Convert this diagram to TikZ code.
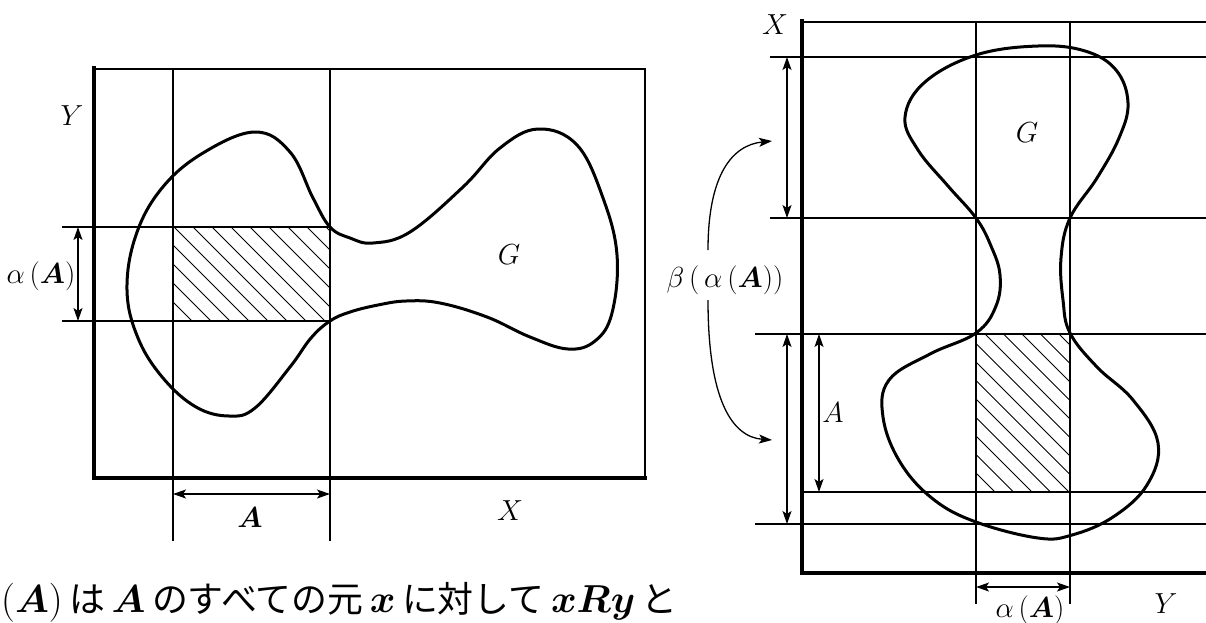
\RequirePackage{fix-cm}
\documentclass[tikz,border=0pt]{standalone}
\usepackage{amsmath}
\usepackage{fontspec}
\newfontfamily\jp{Noto Sans CJK JP}[Scale=0.92]
\usetikzlibrary{arrows.meta}
\begin{document}
\begin{tikzpicture}[x=1pt,y=-1pt,
  thinline/.style={line width=1.3pt},
  axis/.style={line width=4.5pt, line join=miter},
  blob/.style={line width=3pt, line join=round},
  hatch/.style={line width=1pt},
  tip/.style={-{Stealth[length=13pt,width=9pt,inset=3pt]}},
  dim/.style={line width=1.3pt, {Stealth[length=13pt,width=9pt,inset=3pt]}-{Stealth[length=13pt,width=9pt,inset=3pt]}},
  lab/.style={font=\fontsize{29}{32}\selectfont, inner sep=0pt}]
\useasboundingbox (0,0) rectangle (1206,622);

% ---------------- left figure ----------------
\draw[thinline] (94,69) -- (645,69) -- (645,478);
\draw[thinline] (173,69) -- (173,541);
\draw[thinline] (330,69) -- (330,541);
\draw[thinline] (62,227) -- (330,227);
\draw[thinline] (62,321) -- (330,321);
\begin{scope}
  \clip (173,227) rectangle (330,321);
  \foreach \x in {60,79,...,340} \draw[hatch] (\x,227) -- ++(100,100);
\end{scope}
\draw[blob] plot[smooth cycle, tension=0.65] coordinates {
  (127,290) (136,235) (162,188) (203,153) (255,132) (290,152) (313,198)
  (330,227) (350,238) (373,243) (410,232) (463,187) (500,148) (538,129) (577,145)
  (603,198) (617,255) (612,313) (595,341) (568,349) (530,337) (487,317)
  (440,303) (406,301) (378,305) (350,312) (330,321) (311,338) (290,367) (255,408) (229,416)
  (196,407) (163,378) (138,338)};
\draw[axis] (94,66) -- (94,478) -- (647,478);

\coordinate (la1) at (78,227);
\coordinate (la2) at (78,321);
\draw[dim] (la1) -- (la2);
\coordinate (lb1) at (173,494);
\coordinate (lb2) at (330,494);
\draw[dim] (lb1) -- (lb2);

\node[lab] (lY) at (72,116) {$Y$};
\node[lab] (lG) at (509,255) {$G$};
\node[lab] (lX) at (510,511) {$X$};
\node[lab] (lA) at (250,518) {$\boldsymbol{A}$};
\node[lab] (lalpha) at (41,276) {$\alpha\,(\boldsymbol{A})$};

\node[anchor=base west, inner sep=0pt, font=\fontsize{39}{44}\selectfont] (txt) at (1,612)
  {$(\boldsymbol{A})$\,{\jp は}\,$\boldsymbol{A}$\,{\jp のすべての元}\,$\boldsymbol{x}$\,{\jp に対して}\,$\boldsymbol{xRy}$\,{\jp と}};

% ---------------- right figure ----------------
\draw[thinline] (802,22) -- (1206,22);
\draw[thinline] (770,57) -- (1206,57);
\draw[thinline] (770,218) -- (1206,218);
\draw[thinline] (755,334) -- (1206,334);
\draw[thinline] (802,492) -- (1206,492);
\draw[thinline] (755,524) -- (1206,524);
\draw[thinline] (976,22) -- (976,604);
\draw[thinline] (1070,22) -- (1070,604);
\begin{scope}
  \clip (976,334) rectangle (1070,492);
  \foreach \x in {800,818.5,...,1080} \draw[hatch] (\x,334) -- ++(170,170);
\end{scope}
\draw[blob] plot[smooth cycle, tension=0.65] coordinates {
  (976,55) (1038,46) (1085,51) (1116,70) (1128,103) (1119,138) (1097,178)
  (1070,218) (1061,258) (1063,300) (1070,333) (1097,367) (1133,400)
  (1158,443) (1147,485) (1113,517) (1072,535) (1038,538) (976,522)
  (933,499) (900,462) (883,417) (889,380) (930,354) (976,333) (996,306)
  (1000,275) (991,246) (976,218) (948,186) (918,150) (905,117) (925,82)};
\draw[axis] (802,19) -- (802,573) -- (1210,573);

\coordinate (r1a) at (787,57);
\coordinate (r1b) at (787,218);
\draw[dim] (r1a) -- (r1b);
\coordinate (r2a) at (787,334);
\coordinate (r2b) at (787,524);
\draw[dim] (r2a) -- (r2b);
\coordinate (r3a) at (819,334);
\coordinate (r3b) at (819,492);
\draw[dim] (r3a) -- (r3b);
\coordinate (r4a) at (976,587);
\coordinate (r4b) at (1070,587);
\draw[dim] (r4a) -- (r4b);

\node[lab] (rX) at (775,25) {$X$};
\node[lab] (rG) at (1027,133) {$G$};
\node[lab] (rA) at (833,413) {$A$};
\node[lab] (rY) at (1166,604) {$Y$};
\node[lab, anchor=north] (ralpha) at (1030,596) {$\alpha\,(\boldsymbol{A})$};
\node[lab] (beta) at (725,280) {$\beta\,(\,\alpha\,(\boldsymbol{A}))$};

\coordinate (bs1) at (708,250);
\coordinate (be1) at (772,141);
\coordinate (bs2) at (708,300);
\coordinate (be2) at (772,440);
\draw[thinline, tip] (bs1) .. controls (708,175) and (732,145) .. (be1);
\draw[thinline, tip] (bs2) .. controls (708,400) and (732,437) .. (be2);
\end{tikzpicture}
\end{document}
